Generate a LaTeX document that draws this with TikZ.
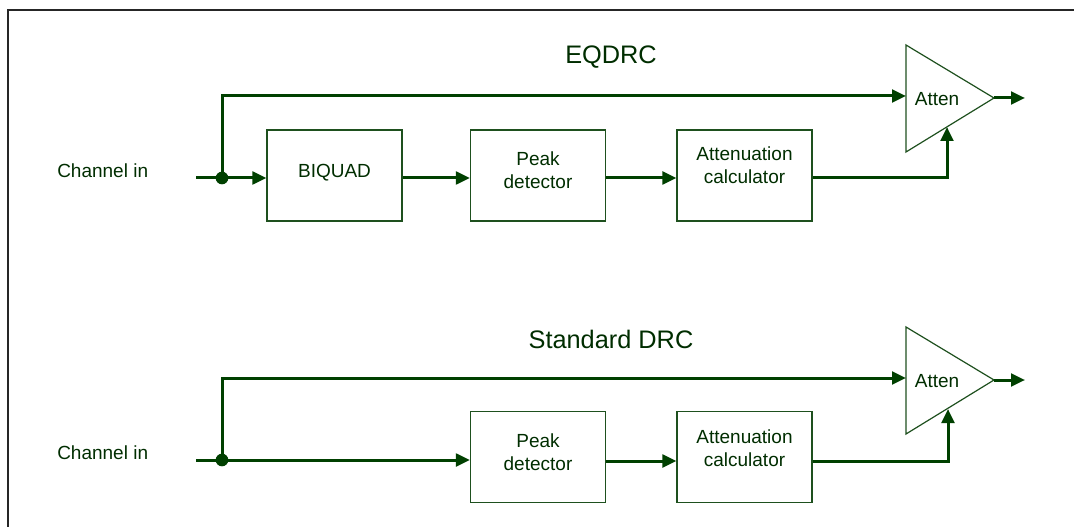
\documentclass[tikz,border=0pt]{standalone}
\usepackage{fontspec}
\setmainfont{Liberation Sans}
\usetikzlibrary{arrows.meta}
\definecolor{lg}{RGB}{0,64,0}
\definecolor{bg}{RGB}{30,80,30}
\definecolor{tg}{RGB}{0,45,0}
\begin{document}
\begin{tikzpicture}[x=0.75pt,y=-0.75pt,
  sig/.style={draw=lg,line width=2.25pt},
  arr/.style={sig,-{Triangle[length=10.5pt,width=9.5pt]}},
  blk/.style={draw=bg,line width=0.9pt,minimum width=101.25pt,minimum height=68.25pt,inner sep=0pt},
  txt/.style={text=tg,font=\fontsize{14.25}{17.25}\selectfont,align=center,inner sep=0pt},
  ttl/.style={text=tg,font=\fontsize{19}{22}\selectfont,inner sep=0pt},
  jdot/.style={circle,fill=lg,inner sep=0pt,minimum size=9.5pt},
  tri/.style={draw=bg,line width=0.9pt,line join=miter}]
\useasboundingbox (0,0) rectangle (1074,527);
% frame
\draw[line width=1.5pt,black!85] (8,527) -- (8,10) -- (1074,10);

% ---------- EQDRC ----------
\node[ttl] (t1) at (611,57) {EQDRC};
\node[txt,anchor=west] (ch1) at (57,171) {Channel in};
\coordinate (L1) at (0,178);
\coordinate (in1) at (196,178);
\node[jdot] (j1) at (222,178) {};
\node[blk] (b1) at (334.5,175.5) {};
\node[txt] (b1t) at (334.5,173) {BIQUAD};
\node[blk] (p1) at (538,175.5) {};
\node[txt] (p1t) at (538,170) {Peak\\detector};
\node[blk] (c1) at (744.5,175.5) {};
\node[txt] (c1t) at (744.5,165) {Attenuation\\calculator};
\draw[tri] (906,45) coordinate (a1top) -- (906,152) coordinate (a1bot) -- (994,98) coordinate (a1out) -- cycle;
\node[txt] (a1t) at (937,99) {Atten};
\coordinate (a1in) at (906,96);
\coordinate (a1ctl) at (947,127);
\coordinate (o1) at (1025,98);

\draw[sig] (in1) -- (j1.center);
\draw[arr] (j1.center) -- (b1.west |- L1);
\draw[arr] (j1.center) |- (a1in);
\draw[arr] (b1.east |- L1) -- (p1.west |- L1);
\draw[arr] (p1.east |- L1) -- (c1.west |- L1);
\draw[arr] (c1.east |- L1) -| (a1ctl);
\draw[arr] (a1out) -- (o1);

% ---------- Standard DRC ----------
\node[ttl] (t2) at (611,339) {Standard DRC};
\node[txt,anchor=west] (ch2) at (57,453) {Channel in};
\coordinate (L2) at (0,461);
\coordinate (in2) at (196,460);
\node[jdot] (j2) at (222,460) {};
\node[blk] (p2) at (538,457) {};
\node[txt] (p2t) at (538,452) {Peak\\detector};
\node[blk] (c2) at (744.5,457) {};
\node[txt] (c2t) at (744.5,448) {Attenuation\\calculator};
\draw[tri] (906,327) coordinate (a2top) -- (906,434) coordinate (a2bot) -- (994,380) coordinate (a2out) -- cycle;
\node[txt] (a2t) at (937,381) {Atten};
\coordinate (a2in) at (906,378);
\coordinate (a2ctl) at (948,409);
\coordinate (o2) at (1025,380);

\draw[sig] (in2) -- (j2.center);
\draw[arr] (j2.center) -- (p2.west |- j2);
\draw[arr] (j2.center) |- (a2in);
\draw[arr] (p2.east |- L2) -- (c2.west |- L2);
\draw[arr] (c2.east |- L2) -| (a2ctl);
\draw[arr] (a2out) -- (o2);
\end{tikzpicture}
\end{document}
